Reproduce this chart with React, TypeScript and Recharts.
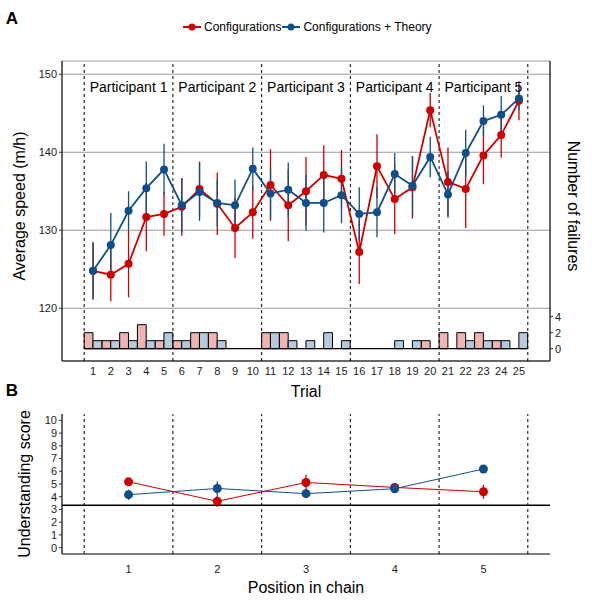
import {
  ComposedChart,
  Line,
  Bar,
  XAxis,
  YAxis,
  CartesianGrid,
  ReferenceLine,
  ReferenceDot,
  ErrorBar,
} from "recharts";

const trials = [1, 2, 3, 4, 5, 6, 7, 8, 9, 10, 11, 12, 13, 14, 15, 16, 17, 18, 19, 20, 21, 22, 23, 24, 25];
const configSpeed = [124.8, 124.3, 125.7, 131.7, 132.1, 133.0, 135.3, 133.4, 130.3, 132.3, 135.8, 133.2, 135.0, 137.1, 136.6, 127.2, 138.2, 134.0, 135.5, 145.4, 136.2, 135.3, 139.6, 142.2, 146.6];
const configSpeedErr = [3.6, 3.4, 4.3, 4.4, 2.8, 3.7, 3.5, 4.0, 3.9, 3.4, 4.6, 4.6, 4.4, 3.8, 3.7, 4.1, 4.1, 4.5, 4.0, 2.2, 4.4, 5.0, 3.7, 2.9, 2.5];
const theorySpeed = [124.8, 128.1, 132.5, 135.4, 137.8, 133.2, 134.9, 133.5, 133.2, 137.9, 134.7, 135.2, 133.5, 133.5, 134.5, 132.1, 132.3, 137.2, 135.7, 139.4, 134.6, 139.9, 144.0, 144.8, 146.9];
const theorySpeedErr = [3.7, 4.1, 2.5, 3.4, 3.3, 3.5, 3.7, 3.0, 3.3, 2.7, 3.2, 3.5, 3.6, 3.8, 3.6, 3.4, 3.2, 2.7, 3.8, 2.6, 3.0, 3.0, 2.0, 2.4, 1.5];
const configFailures = [2, 1, 2, 3, 1, 1, 2, 2, 0, 0, 2, 2, 0, 0, 0, 0, 0, 0, 0, 1, 2, 2, 2, 1, 0];
const theoryFailures = [1, 1, 1, 1, 2, 1, 2, 1, 0, 0, 2, 1, 1, 2, 1, 0, 0, 1, 1, 0, 0, 1, 1, 1, 2];

const participants = ["Participant 1", "Participant 2", "Participant 3", "Participant 4", "Participant 5"];
const participantCenters = [3, 8, 13, 18, 23];
const blockEdges = [0.5, 5.5, 10.5, 15.5, 20.5, 25.5];
const speedTicks = [120, 130, 140, 150];
const failureTicks = [0, 2, 4];

const positions = [1, 2, 3, 4, 5];
const configScore = [5.17, 3.64, 5.12, 4.73, 4.39];
const configScoreErr = [0.3, 0.45, 0.6, 0.35, 0.55];
const theoryScore = [4.16, 4.65, 4.24, 4.63, 6.18];
const theoryScoreErr = [0.4, 0.55, 0.3, 0.3, 0.25];
const positionEdges = [0.5, 1.5, 2.5, 3.5, 4.5, 5.5];
const scoreTicks = [0, 1, 2, 3, 4, 5, 6, 7, 8, 9, 10];
const chanceScore = 3.33;

const RED = "#CD0000";
const BLUE = "#104E8B";
const RED_FILL = "#F0B3B3";
const BLUE_FILL = "#B7CADC";
const FONT = "Arial, 'Liberation Sans', sans-serif";

const trialData = trials.map((t, i) => ({
  trial: t,
  config: configSpeed[i],
  configErr: configSpeedErr[i],
  theory: theorySpeed[i],
  theoryErr: theorySpeedErr[i],
  configFail: configFailures[i],
  theoryFail: theoryFailures[i],
}));

const scoreData = positions.map((p, i) => ({
  pos: p,
  config: configScore[i],
  configErr: configScoreErr[i],
  theory: theoryScore[i],
  theoryErr: theoryScoreErr[i],
}));

const tickStyle = { fontSize: 11, fill: "#222", fontFamily: FONT };
const axisStroke = { stroke: "#000", strokeWidth: 1.2 };

function Title({ x, y, text, angle = 0, size = 16, bold = false }: { x: number; y: number; text: string; angle?: number; size?: number; bold?: boolean }) {
  return (
    <div
      style={{
        position: "absolute",
        left: x,
        top: y,
        transform: `translate(-50%, -50%) rotate(${angle}deg)`,
        whiteSpace: "nowrap",
        fontSize: size,
        fontWeight: bold ? 700 : 400,
        color: "#000",
        lineHeight: 1,
      }}
    >
      {text}
    </div>
  );
}

function LegendKey({ color, label }: { color: string; label: string }) {
  return (
    <div style={{ display: "flex", alignItems: "center", marginRight: 1 }}>
      <svg width={18} height={10}>
        <line x1={0} y1={5} x2={18} y2={5} stroke={color} strokeWidth={2} />
        <circle cx={9} cy={5} r={3.5} fill={color} />
      </svg>
      <span style={{ fontSize: 12, marginLeft: 3, color: "#000" }}>{label}</span>
    </div>
  );
}

export default function App() {
  return (
    <div style={{ position: "absolute", left: 0, top: 0, width: 592, height: 607, background: "#fff", fontFamily: FONT }}>
      <div style={{ position: "absolute", left: 0, top: 0 }}>
        <ComposedChart
          width={592}
          height={405}
          data={trialData}
          margin={{ top: 61, right: 0, bottom: 0, left: 0 }}
          barGap={0}
          barCategoryGap={0}
        >
          <CartesianGrid yAxisId="left" vertical={false} stroke="#9a9a9a" strokeWidth={1} />
          <XAxis
            dataKey="trial"
            type="number"
            domain={[-0.75, 26.75]}
            allowDataOverflow
            ticks={trials}
            interval={0}
            height={44}
            tickLine={false}
            tickSize={3}
            tickMargin={3}
            axisLine={axisStroke}
            tick={tickStyle}
          />
          <YAxis
            yAxisId="left"
            type="number"
            domain={[113.24, 151.7]}
            allowDataOverflow
            ticks={speedTicks}
            interval={0}
            width={62}
            tickSize={3}
            tickMargin={2}
            tickLine={{ stroke: "#333" }}
            axisLine={axisStroke}
            tick={tickStyle}
          />
          <YAxis
            yAxisId="right"
            orientation="right"
            type="number"
            domain={[-1.54, 35.96]}
            allowDataOverflow
            ticks={failureTicks}
            interval={0}
            width={42}
            tickSize={3}
            tickMargin={2}
            tickLine={{ stroke: "#333" }}
            axisLine={axisStroke}
            tick={tickStyle}
          />
          <Bar yAxisId="right" dataKey="configFail" barSize={8.8} fill={RED_FILL} stroke="#000" strokeWidth={1} isAnimationActive={false} />
          <Bar yAxisId="right" dataKey="theoryFail" barSize={8.8} fill={BLUE_FILL} stroke="#000" strokeWidth={1} isAnimationActive={false} />
          <ReferenceLine
            yAxisId="right"
            segment={[
              { x: blockEdges[0], y: 0 },
              { x: blockEdges[blockEdges.length - 1], y: 0 },
            ]}
            stroke="#000"
            strokeWidth={1.2}
          />
          {blockEdges.map((x) => (
            <ReferenceLine key={x} yAxisId="left" x={x} stroke="#000" strokeWidth={1} strokeDasharray="3 3" />
          ))}
          {participants.map((p, i) => (
            <ReferenceDot
              key={p}
              yAxisId="left"
              x={participantCenters[i]}
              y={148.3}
              r={0}
              fill="none"
              stroke="none"
              label={{ value: p, position: "center", fontSize: 14, fill: "#000", fontFamily: FONT }}
            />
          ))}
          <Line
            yAxisId="left"
            dataKey="config"
            stroke={RED}
            strokeWidth={1.8}
            dot={{ r: 4, fill: RED, stroke: RED, strokeWidth: 0 }}
            activeDot={false}
            isAnimationActive={false}
          >
            <ErrorBar dataKey="configErr" direction="y" width={0} stroke={RED} strokeWidth={1.3} />
          </Line>
          <Line
            yAxisId="left"
            dataKey="theory"
            stroke={BLUE}
            strokeWidth={1.8}
            dot={{ r: 4, fill: BLUE, stroke: BLUE, strokeWidth: 0 }}
            activeDot={false}
            isAnimationActive={false}
          >
            <ErrorBar dataKey="theoryErr" direction="y" width={0} stroke={BLUE} strokeWidth={1.3} />
          </Line>
        </ComposedChart>
      </div>

      <div style={{ position: "absolute", left: 0, top: 390 }}>
        <ComposedChart width={592} height={217} data={scoreData} margin={{ top: 24, right: 42, bottom: 0, left: 0 }}>
          <XAxis
            dataKey="pos"
            type="number"
            domain={[0.25, 5.75]}
            allowDataOverflow
            ticks={positions}
            interval={0}
            height={53}
            tickLine={false}
            tickSize={8}
            tickMargin={3}
            axisLine={axisStroke}
            tick={tickStyle}
          />
          <YAxis
            type="number"
            domain={[-0.5, 10.5]}
            allowDataOverflow
            ticks={scoreTicks}
            interval={0}
            width={62}
            tickSize={3}
            tickMargin={2}
            tickLine={{ stroke: "#333" }}
            axisLine={axisStroke}
            tick={tickStyle}
          />
          {positionEdges.map((x) => (
            <ReferenceLine key={x} x={x} stroke="#000" strokeWidth={1} strokeDasharray="3 3" />
          ))}
          <ReferenceLine y={chanceScore} stroke="#000" strokeWidth={1.3} />
          <Line
            dataKey="config"
            stroke={RED}
            strokeWidth={1}
            dot={{ r: 4.5, fill: RED, stroke: RED, strokeWidth: 0 }}
            activeDot={false}
            isAnimationActive={false}
          >
            <ErrorBar dataKey="configErr" direction="y" width={0} stroke={RED} strokeWidth={1.3} />
          </Line>
          <Line
            dataKey="theory"
            stroke={BLUE}
            strokeWidth={1}
            dot={{ r: 4.5, fill: BLUE, stroke: BLUE, strokeWidth: 0 }}
            activeDot={false}
            isAnimationActive={false}
          >
            <ErrorBar dataKey="theoryErr" direction="y" width={0} stroke={BLUE} strokeWidth={1.3} />
          </Line>
        </ComposedChart>
      </div>

      <div style={{ position: "absolute", left: 183, top: 20, display: "flex", alignItems: "center" }}>
        <LegendKey color={RED} label="Configurations" />
        <LegendKey color={BLUE} label="Configurations + Theory" />
      </div>

      <Title x={12} y={18} text="A" size={17} bold />
      <Title x={12} y={390} text="B" size={17} bold />
      <Title x={20} y={206} text="Average speed (m/h)" angle={-90} />
      <Title x={573} y={206} text="Number of failures" angle={90} />
      <Title x={306} y={392} text="Trial" />
      <Title x={25} y={484} text="Understanding score" angle={-90} />
      <Title x={306} y={588} text="Position in chain" />
    </div>
  );
}
